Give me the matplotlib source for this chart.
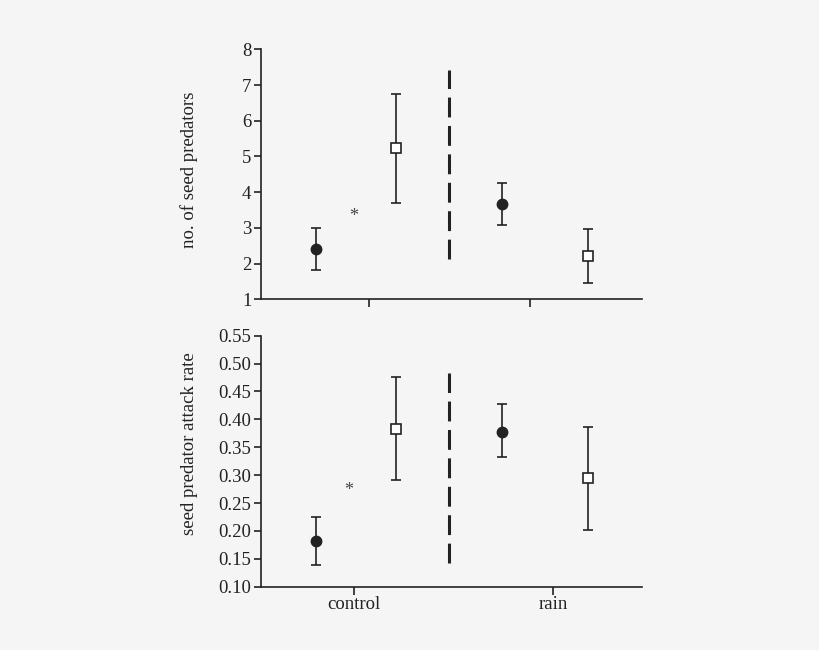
import matplotlib.pyplot as plt

# ----------------------------
# Data
# ----------------------------

groups = ["control", "rain"]

# no. of seed predators: [control filled, control open, rain filled, rain open]
pred_mean = [2.42, 5.24, 3.67, 2.22]
pred_low = [1.82, 3.70, 3.09, 1.45]
pred_high = [2.99, 6.76, 4.25, 2.97]

# seed predator attack rate
rate_mean = [0.182, 0.383, 0.378, 0.295]
rate_low = [0.138, 0.292, 0.333, 0.202]
rate_high = [0.225, 0.475, 0.428, 0.387]

pred_ticks = [1, 2, 3, 4, 5, 6, 7, 8]
rate_ticks = [0.10, 0.15, 0.20, 0.25, 0.30, 0.35, 0.40, 0.45, 0.50, 0.55]

# ----------------------------
# Style
# ----------------------------

plt.rcParams["font.family"] = ["Liberation Serif", "DejaVu Serif"]
bg = "#f5f5f5"
ink = "#222222"

x_pos = [1.0, 2.0, 3.33, 4.4]
filled = [True, False, True, False]
divider_x = 2.66

fig = plt.figure(figsize=(8.2, 6.5), dpi=100, facecolor=bg)
ax1 = fig.add_axes([0.3183, 0.5395, 0.4646, 0.3846])
ax2 = fig.add_axes([0.3183, 0.0974, 0.4646, 0.3862])


def draw_panel(ax, mean, low, high, ticks, fmt, ylabel, divider, star, label_y):
    ax.set_facecolor(bg)
    for x, m, lo, hi, f in zip(x_pos, mean, low, high, filled):
        ax.errorbar(x, m, yerr=[[m - lo], [hi - m]], fmt="none",
                    ecolor=ink, elinewidth=1.2, capsize=3.8, capthick=1.2,
                    zorder=2)
        if f:
            ax.plot(x, m, marker="o", ms=7.5, color=ink, zorder=3)
        else:
            ax.plot(x, m, marker="s", ms=7, mfc="white", mec=ink,
                    mew=1.2, zorder=3)
    ax.plot([divider_x, divider_x], divider, color=ink, lw=2.2,
            dashes=(6.5, 2.8))
    ax.text(star[0], star[1], "*", ha="center", va="center",
            fontsize=13, color="#444444")

    ax.set_xlim(0.31, 5.075)
    ax.set_ylim(ticks[0], ticks[-1])
    ax.set_yticks(ticks)
    ax.set_yticklabels([fmt.format(t) for t in ticks])
    ax.set_ylabel(ylabel, fontsize=13.5, color=ink)
    ax.yaxis.set_label_coords(-0.166, label_y)

    for s in ["top", "right"]:
        ax.spines[s].set_visible(False)
    for s in ["left", "bottom"]:
        ax.spines[s].set_color(ink)
        ax.spines[s].set_linewidth(1.2)
    ax.tick_params(axis="y", direction="out", length=5, width=1.2,
                   labelsize=13.5, colors=ink, pad=2)
    ax.tick_params(axis="x", direction="out", length=6, width=1.2,
                   labelsize=13.5, colors=ink, pad=1)


draw_panel(ax1, pred_mean, pred_low, pred_high, pred_ticks, "{:d}",
           "no. of seed predators", (2.14, 7.42), (1.47, 3.31), 0.517)
ax1.set_xticks([1.66, 3.68])
ax1.set_xticklabels([])

draw_panel(ax2, rate_mean, rate_low, rate_high, rate_ticks, "{:.2f}",
           "seed predator attack rate", (0.143, 0.483), (1.41, 0.272), 0.570)
ax2.set_xticks([1.47, 3.96])
ax2.set_xticklabels(groups)

fig.savefig("out.png", dpi=100, facecolor=bg)
